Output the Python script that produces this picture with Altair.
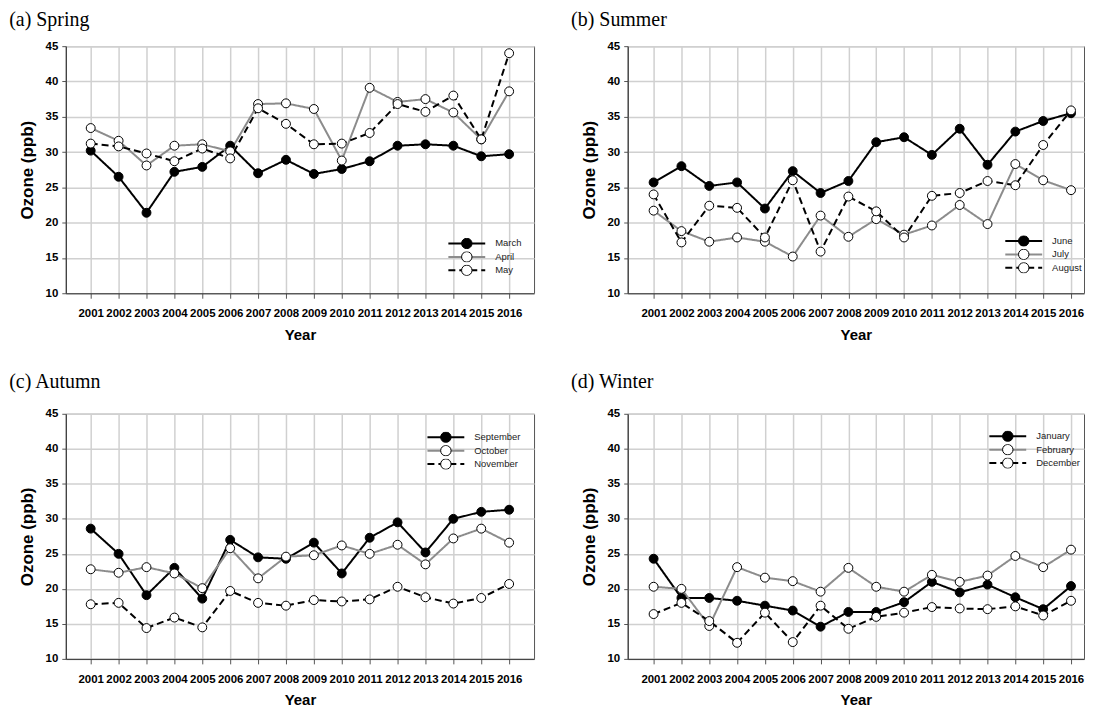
import altair as alt
import pandas as pd

years = list(range(2001, 2017))

march = [30.2, 26.5, 21.4, 27.2, 27.9, 30.9, 27.0, 28.9, 26.9, 27.6, 28.7, 30.9, 31.1, 30.9, 29.4, 29.7]
april = [33.4, 31.6, 28.1, 30.9, 31.1, 30.1, 36.8, 36.9, 36.1, 28.8, 39.1, 37.1, 37.5, 35.6, 31.8, 38.6]
may = [31.2, 30.8, 29.8, 28.7, 30.5, 29.1, 36.2, 34.0, 31.1, 31.2, 32.7, 36.8, 35.7, 38.0, 31.8, 44.0]

june = [25.7, 28.0, 25.2, 25.7, 22.0, 27.3, 24.2, 25.9, 31.4, 32.1, 29.6, 33.3, 28.2, 32.9, 34.4, 35.5]
july = [21.7, 18.8, 17.3, 17.9, 17.3, 15.2, 21.0, 18.0, 20.5, 18.3, 19.6, 22.5, 19.8, 28.3, 26.0, 24.6]
august = [24.0, 17.2, 22.4, 22.1, 17.9, 26.0, 15.9, 23.7, 21.6, 17.9, 23.8, 24.2, 25.9, 25.3, 31.0, 35.9]

september = [28.6, 25.0, 19.1, 23.0, 18.6, 27.0, 24.5, 24.3, 26.6, 22.2, 27.3, 29.5, 25.2, 30.0, 31.0, 31.3]
october = [22.8, 22.3, 23.1, 22.2, 20.1, 25.8, 21.5, 24.6, 24.8, 26.2, 25.0, 26.3, 23.5, 27.2, 28.6, 26.6]
november = [17.8, 18.0, 14.4, 15.9, 14.5, 19.7, 18.0, 17.6, 18.4, 18.2, 18.5, 20.3, 18.8, 17.9, 18.7, 20.7]

january = [24.3, 18.7, 18.7, 18.3, 17.6, 16.9, 14.6, 16.7, 16.7, 18.1, 21.0, 19.5, 20.6, 18.8, 17.1, 20.4]
february = [20.3, 20.0, 14.7, 23.1, 21.6, 21.1, 19.6, 23.0, 20.3, 19.6, 22.0, 21.0, 21.9, 24.7, 23.1, 25.6]
december = [16.4, 18.0, 15.4, 12.3, 16.6, 12.4, 17.6, 14.3, 16.0, 16.6, 17.4, 17.2, 17.1, 17.5, 16.2, 18.3]

y_ticks = [10, 15, 20, 25, 30, 35, 40, 45]

SANS = "Liberation Sans"
SERIF = "Liberation Serif"
GRAY = "#8c8c8c"


def panel(title, names, series, x_domain, width, height, lx, ly, toffset):
    rows = []
    for n, s in zip(names, series):
        for yr, v in zip(years, s):
            rows.append({"year": yr, "month": n, "ozone": v})
    df = pd.DataFrame(rows)
    base = alt.Chart(df)

    x = alt.X(
        "year:Q",
        scale=alt.Scale(domain=x_domain, nice=False, zero=False),
        axis=alt.Axis(
            values=years, format="d", title="Year", labelAngle=0,
            labelOverlap=False, labelFlush=False, labelBound=False,
            tickSize=5, labelPadding=9.5, titlePadding=8,
        ),
    )
    y = alt.Y(
        "ozone:Q",
        scale=alt.Scale(domain=[10, 45], nice=False, zero=False),
        axis=alt.Axis(
            values=y_ticks, title="Ozone (ppb)", tickSize=4,
            labelPadding=4, titlePadding=9,
        ),
    )

    line_legend = alt.Legend(
        title=None, orient="none", legendX=lx, legendY=ly,
        symbolType="stroke", symbolSize=1369, symbolStrokeWidth=2,
        clipHeight=11, rowPadding=2.5, padding=0, labelOffset=9,
        labelFont=SANS, labelFontSize=9.5, labelColor="#222", zindex=1,
    )
    lines = base.mark_line(strokeWidth=2).encode(
        x=x,
        y=y,
        stroke=alt.Stroke(
            "month:N",
            scale=alt.Scale(domain=names, range=["black", GRAY, "black"]),
            legend=line_legend,
        ),
        strokeDash=alt.StrokeDash(
            "month:N",
            scale=alt.Scale(domain=names, range=[[1, 0], [1, 0], [7, 4]]),
            legend=line_legend,
        ),
    )
    fill_dom = [n + "_pt" for n in names]
    pts = base.transform_calculate(m2="datum.month + '_pt'").mark_point(
        shape="circle", filled=True, size=80, stroke="black",
        strokeWidth=1, opacity=1,
    ).encode(
        x=x,
        y=y,
        fill=alt.Fill(
            "m2:N",
            scale=alt.Scale(domain=fill_dom, range=["black", "white", "white"]),
            legend=alt.Legend(
                title=None, orient="none", legendX=lx + 13.5, legendY=ly,
                symbolType="circle", symbolSize=110,
                symbolStrokeColor="black", symbolStrokeWidth=1,
                symbolOpacity=1, clipHeight=11, rowPadding=2.5, padding=0,
                labelExpr="''", labelFontSize=10, zindex=2,
            ),
        ),
    )
    return alt.layer(lines, pts).properties(
        width=width,
        height=height,
        title=alt.TitleParams(
            title, anchor="start", frame="bounds", font=SERIF,
            fontSize=20, fontWeight="normal", color="black", dx=-9,
            offset=toffset,
        ),
    )


left_dom = [2000.107, 2016.893]
right_dom = [2000.069, 2016.467]

pa = panel("(a) Spring", ["March", "April", "May"], [march, april, may],
           left_dom, 470, 248, 383, 192.5, 10)
pb = panel("(b) Summer", ["June", "July", "August"], [june, july, august],
           right_dom, 458, 248, 378, 190, 10)
pc = panel("(c) Autumn", ["September", "October", "November"],
           [september, october, november], left_dom, 470, 246, 362, 18, 16)
pd_ = panel("(d) Winter", ["January", "February", "December"],
            [january, february, december], right_dom, 458, 246, 362, 17, 16)

ind = dict(stroke="independent", fill="independent", strokeDash="independent")

row1 = alt.hconcat(pa, pb, spacing=35).resolve_scale(**ind).resolve_legend(**ind)
row2 = alt.hconcat(pc, pd_, spacing=35).resolve_scale(**ind).resolve_legend(**ind)

chart = alt.vconcat(row1, row2, spacing=28).resolve_scale(**ind).resolve_legend(
    **ind
).properties(
    padding={"left": 0, "top": 0, "right": 0, "bottom": 0},
    background="white",
).configure_view(
    stroke="#555", strokeWidth=1
).configure_axis(
    labelFont=SANS, labelFontWeight="bold", labelFontSize=11.5,
    labelColor="black", titleFont=SANS, titleFontWeight="bold",
    titleColor="black", gridColor="#d0d0d0", gridWidth=1.5,
    domainColor="#333", tickColor="#555",
).configure_axisX(
    titleFontSize=15
).configure_axisY(
    titleFontSize=17
)

chart.save("out.html", embed_options={"renderer": "svg", "actions": False})
